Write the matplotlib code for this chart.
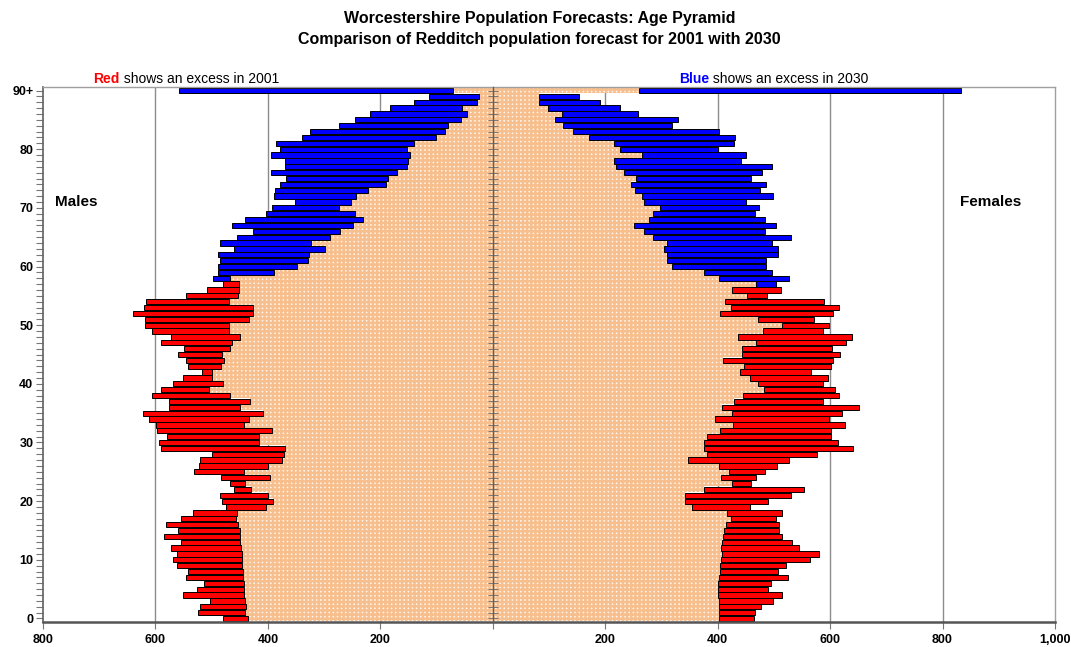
import matplotlib
matplotlib.use("Agg")
import matplotlib.pyplot as plt
import numpy as np

plt.rcParams['font.family'] = ['Liberation Sans', 'DejaVu Sans']
plt.rcParams['hatch.linewidth'] = 1.8

# single years of age, 0 .. 90+
ages = np.arange(91)

# population by single year of age
male_2001 = np.array([
    479, 525, 520, 503, 551, 526, 514, 546, 542, 561,
    569, 561, 573, 554, 585, 560, 582, 555, 533, 475,
    481, 486, 460, 468, 483, 532, 523, 520, 499, 591,
    593, 580, 597, 599, 612, 623, 576, 576, 606, 591,
    569, 551, 517, 542, 545, 560, 549, 591, 573, 606,
    618, 618, 640, 620, 616, 546, 508, 480,
    468, 390, 348, 329, 326, 299, 324, 289, 272, 249,
    230, 245, 274, 252, 243, 222, 190, 187, 170, 153,
    150, 148, 152, 141, 101, 85, 79, 57, 46, 55, 28, 24, 71])
male_2030 = np.array([
    436, 441, 439, 441, 443, 443, 443, 444, 444, 446,
    446, 446, 447, 449, 449, 449, 453, 457, 455, 403,
    391, 399, 430, 440, 397, 443, 400, 375, 372, 370,
    415, 415, 393, 443, 434, 409, 450, 431, 468, 504,
    479, 499, 499, 483, 478, 481, 467, 464, 449, 470,
    470, 434, 427, 427, 469, 453, 452, 452,
    498, 489, 489, 485, 488, 460, 485, 455, 427, 464,
    441, 404, 392, 351, 389, 388, 379, 367, 394, 370,
    370, 394, 379, 386, 339, 325, 274, 245, 218, 182, 140, 113, 558])
female_2001 = np.array([
    465, 466, 477, 499, 514, 489, 494, 525, 507, 521,
    564, 580, 545, 532, 515, 509, 509, 504, 515, 458,
    489, 530, 554, 460, 469, 485, 505, 527, 577, 640,
    614, 601, 601, 627, 598, 621, 651, 587, 616, 608,
    588, 596, 566, 601, 605, 618, 603, 629, 639, 588,
    598, 571, 605, 616, 590, 488, 512,
    468, 403, 376, 319, 310, 309, 304, 309, 285, 269,
    251, 278, 285, 298, 269, 266, 253, 245, 254, 234,
    219, 215, 266, 227, 216, 171, 142, 125, 111, 124, 99, 82, 82, 260])
female_2030 = np.array([
    403, 403, 403, 402, 401, 400, 400, 403, 405, 405,
    406, 408, 406, 408, 410, 411, 414, 424, 416, 355,
    342, 342, 376, 425, 406, 421, 403, 347, 381, 376,
    375, 381, 405, 428, 395, 425, 408, 429, 445, 483,
    471, 457, 440, 447, 410, 444, 444, 468, 436, 481,
    514, 471, 405, 423, 413, 453, 425,
    504, 527, 496, 486, 486, 508, 508, 496, 530, 485,
    504, 484, 467, 473, 450, 499, 475, 486, 460, 479,
    496, 442, 450, 401, 429, 431, 403, 319, 330, 259, 226, 191, 153, 832])

age_ticks = [0, 10, 20, 30, 40, 50, 60, 70, 80, 90]
age_labels = ['0', '10', '20', '30', '40', '50', '60', '70', '80', '90+']
pop_ticks = [-800, -600, -400, -200, 0, 200, 400, 600, 800, 1000]
pop_labels = ['800', '600', '400', '200', '', '200', '400', '600', '800', '1,000']

RED = '#ff0000'
BLUE = '#0000ff'

fig = plt.figure(figsize=(10.71, 6.47), dpi=100)
ax = fig.add_axes([43 / 1071, 1 - 622 / 647, (1055 - 43) / 1071, (622 - 87) / 647])

# gridlines behind everything
for g in [-600, -400, -200, 200, 400, 600, 800]:
    ax.axvline(g, color='#8c8c8c', lw=1.0, zorder=0)

edges = np.append(ages, 91) - 0.5

for sign, p2001, p2030 in [(-1, male_2001, male_2030), (1, female_2001, female_2030)]:
    lo = np.minimum(p2001, p2030)
    hi = np.maximum(p2001, p2030)
    # common part, checkered orange
    ax.stairs(sign * lo, edges, orientation='horizontal', baseline=0, fill=True,
              facecolor='#fff4ea', edgecolor='#f8bf8e', hatch='++++', lw=0, zorder=1)
    cols = np.where(p2001 > p2030, RED, BLUE)
    if sign < 0:
        ax.barh(ages, hi - lo, left=-hi, height=0.9, color=cols,
                edgecolor='black', lw=0.7, zorder=2)
    else:
        ax.barh(ages, hi - lo, left=lo, height=0.9, color=cols,
                edgecolor='black', lw=0.7, zorder=2)

ax.set_xlim(-800, 1000)
ax.set_ylim(-0.6, 90.6)

ax.set_yticks(age_ticks)
ax.set_yticklabels(age_labels, fontsize=9, fontweight='bold')
ax.set_yticks(ages, minor=True)
ax.tick_params(axis='y', which='both', direction='out', length=5, width=0.8,
               color='#777777', pad=2)
ax.set_xticks(pop_ticks)
ax.set_xticklabels(pop_labels, fontsize=9, fontweight='bold')
ax.tick_params(axis='x', direction='out', length=5, width=0.8, color='#777777', pad=3.5)

for s in ['top', 'right']:
    ax.spines[s].set_color('#a0a0a0')
    ax.spines[s].set_linewidth(1.0)
ax.spines['left'].set_color('#606060')
ax.spines['left'].set_linewidth(1.2)
ax.spines['bottom'].set_color('#555555')
ax.spines['bottom'].set_linewidth(1.8)

# centre line with year ticks
ax2 = ax.twinx()
ax2.set_ylim(ax.get_ylim())
for s in ['top', 'right', 'bottom']:
    ax2.spines[s].set_visible(False)
ax2.spines['left'].set_position(('data', 0))
ax2.spines['left'].set_color('#606060')
ax2.spines['left'].set_linewidth(1.0)
ax2.yaxis.set_ticks_position('left')
ax2.set_yticks(ages)
ax2.set_yticklabels([])
ax2.tick_params(axis='y', direction='inout', length=7, width=0.7, color='#777777')

fig.text(0.504, 1 - 29 / 647,
         'Worcestershire Population Forecasts: Age Pyramid\n'
         'Comparison of Redditch population forecast for 2001 with 2030',
         ha='center', va='center', fontsize=11.5, fontweight='bold', linespacing=1.45)

fig.text(120 / 1071, 1 - 79 / 647, 'Red', color=RED, fontweight='bold',
         fontsize=10, ha='right', va='center')
fig.text(120 / 1071, 1 - 79 / 647, ' shows an excess in 2001', color='black',
         fontsize=10, ha='left', va='center')
fig.text(709 / 1071, 1 - 79 / 647, 'Blue', color=BLUE, fontweight='bold',
         fontsize=10, ha='right', va='center')
fig.text(709 / 1071, 1 - 79 / 647, ' shows an excess in 2030', color='black',
         fontsize=10, ha='left', va='center')

fig.text(55 / 1071, 1 - 202 / 647, 'Males', fontsize=11, fontweight='bold',
         ha='left', va='center')
fig.text(960 / 1071, 1 - 202 / 647, 'Females', fontsize=11, fontweight='bold',
         ha='left', va='center')

fig.savefig('out.png', dpi=100)
